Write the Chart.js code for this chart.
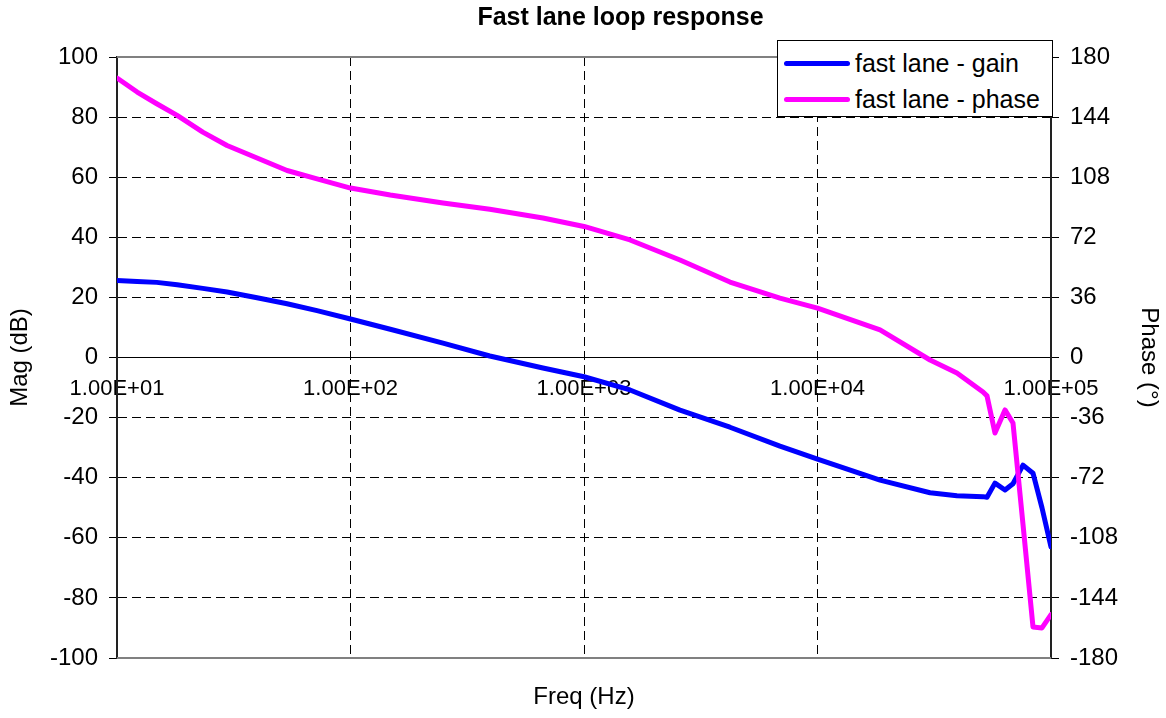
<!DOCTYPE html>
<html>
<head>
<meta charset="utf-8">
<script src="https://cdn.jsdelivr.net/npm/chart.js@4/dist/chart.umd.min.js"></script>
<style>
  html, body { margin: 0; padding: 0; background: #fff; }
  #wrap { position: relative; width: 1166px; height: 718px; }
  #legend {
    position: absolute; left: 777px; top: 40px; width: 274px; height: 75px;
    border: 1px solid #000; background: #fff; z-index: 2;
    font-family: "Liberation Sans", Arial, sans-serif; font-size: 25px; color: #000;
  }
  .row { position: absolute; left: 0; height: 30px; display: flex; align-items: center; white-space: nowrap; }
  .swatch { width: 66px; height: 5px; border-radius: 3px; margin-left: 6px; margin-right: 5px; }
</style>
</head>
<body>
<div id="wrap">
  <canvas id="c" width="1166" height="718"></canvas>
  <div id="legend"></div>
</div>
<script>
// ---- data ----
const freqHz = [10, 12.2, 14.8, 18.1, 23.3, 29.6, 39.8, 53.5, 71.9, 100, 148, 249, 395, 667, 1000,
  1574, 2577, 4218, 6905, 10000, 18530, 30340, 39550, 51150, 53200, 57550, 63530, 68740,
  75880, 83740, 91490, 100000];
const gainDb = [25.6, 25.3, 25.0, 24.2, 23.0, 21.8, 19.9, 17.9, 15.6, 12.8, 9.4, 4.8, 0.5, -3.5, -6.4,
  -10.8, -17.5, -23.2, -29.5, -33.8, -40.8, -45.0, -46.0, -46.3, -46.5, -41.8, -44.1, -42.0,
  -35.8, -38.5, -50.0, -63.0];
const phaseDeg = [167.4, 159, 152, 145, 135, 127, 119.5, 112, 107, 101.5, 97.3, 92.5, 88.8, 83.6, 78.5,
  70.4, 58.4, 45.2, 35.6, 29.6, 16.5, -1.5, -9.3, -20.7, -23, -45.2, -31.4, -39.2,
  -100, -161.4, -162, -154];
const seriesNames = ['fast lane - gain', 'fast lane - phase'];
const seriesColors = ['#0000FF', '#FF00FF'];
const xTickValues = [10, 100, 1000, 10000, 100000];
const xTickLabels = ['1.00E+01', '1.00E+02', '1.00E+03', '1.00E+04', '1.00E+05'];
const chartTitle = 'Fast lane loop response';
const xTitle = 'Freq (Hz)';
const yLeftTitle = 'Mag (dB)';
const yRightTitle = 'Phase (°)';

const FONT = '"Liberation Sans", Arial, sans-serif';

const frame = {
  id: 'frame',
  afterLayout(chart) {
    // title in the reference sits right of the canvas centre
    if (chart.titleBlock) { chart.titleBlock.left += 75; }
  },
  beforeDatasetsDraw(chart) {
    const {ctx, chartArea: a} = chart;
    ctx.save();
    ctx.strokeStyle = '#808080';
    ctx.lineWidth = 2;
    ctx.beginPath();
    ctx.moveTo(a.left, a.top); ctx.lineTo(a.right, a.top);
    ctx.moveTo(a.left, a.bottom); ctx.lineTo(a.right, a.bottom);
    ctx.stroke();
    ctx.restore();
  }
};

const chart = new Chart(document.getElementById('c'), {
  type: 'line',
  data: {
    datasets: [
      {
        label: seriesNames[0],
        data: freqHz.map((f, i) => ({x: f, y: gainDb[i]})),
        borderColor: seriesColors[0], backgroundColor: seriesColors[0],
        borderWidth: 5, pointRadius: 0, tension: 0, yAxisID: 'y', order: 1,
        borderCapStyle: 'round', borderJoinStyle: 'round'
      },
      {
        label: seriesNames[1],
        data: freqHz.map((f, i) => ({x: f, y: phaseDeg[i]})),
        borderColor: seriesColors[1], backgroundColor: seriesColors[1],
        borderWidth: 5, pointRadius: 0, tension: 0, yAxisID: 'y1', order: 0,
        borderCapStyle: 'round', borderJoinStyle: 'round'
      }
    ]
  },
  options: {
    responsive: false,
    animation: false,
    layout: { padding: 0 },
    plugins: {
      legend: { display: false },
      tooltip: { enabled: false },
      title: {
        display: true, text: chartTitle, color: '#000',
        font: { family: FONT, size: 25, weight: 'bold' },
        padding: { top: 3, bottom: 24 }
      },
      subtitle: {
        display: true, text: xTitle, position: 'bottom', fullSize: false, color: '#000',
        font: { family: FONT, size: 24, weight: 'normal' },
        padding: { top: 24.6, bottom: 6.6 }
      }
    },
    scales: {
      x: {
        type: 'logarithmic',
        min: 10, max: 100000,
        position: { y: 0 },
        afterBuildTicks: (axis) => { axis.ticks = xTickValues.map(v => ({ value: v, major: true })); },
        ticks: {
          autoSkip: false, maxRotation: 0, minRotation: 0, padding: 18, color: '#000',
          font: { family: FONT, size: 22 },
          callback: (value, index) => xTickLabels[index]
        },
        grid: {
          drawTicks: false,
          color: (c) => (c.index === 0 || c.index === xTickValues.length - 1) ? 'rgba(0,0,0,0)' : '#000',
          lineWidth: 1
        },
        border: { display: true, color: '#000', width: 1, dash: [9, 5] }
      },
      y: {
        position: 'left',
        min: -100, max: 100,
        ticks: { stepSize: 20, padding: 11, color: '#000', font: { family: FONT, size: 24 } },
        grid: {
          color: (c) => (c.tick && (c.tick.value === 100 || c.tick.value === -100)) ? 'rgba(0,0,0,0)' : '#000',
          tickColor: '#000', tickLength: 8, lineWidth: 1
        },
        border: { display: true, color: '#222', width: 2, dash: [9, 5] },
        title: {
          display: true, text: yLeftTitle, color: '#000',
          font: { family: FONT, size: 24 }, padding: { top: 6, bottom: 0 }
        },
        afterFit: (s) => { s.width = 117; }
      },
      y1: {
        position: 'right',
        min: -180, max: 180,
        ticks: { stepSize: 36, padding: 11, color: '#000', font: { family: FONT, size: 24 } },
        grid: { drawOnChartArea: false, tickColor: '#000', tickLength: 8 },
        border: { display: true, color: '#222', width: 2 },
        title: {
          display: true, text: yRightTitle, color: '#000',
          font: { family: FONT, size: 24 }, padding: { top: 3, bottom: 0 }
        },
        afterFit: (s) => { s.width = 115; }
      }
    }
  },
  plugins: [frame]
});

// HTML legend built from the datasets
const leg = document.getElementById('legend');
chart.data.datasets.forEach((ds, i) => {
  const row = document.createElement('div');
  row.className = 'row';
  row.style.top = (7 + i * 36) + 'px';
  const sw = document.createElement('span');
  sw.className = 'swatch';
  sw.style.background = ds.borderColor;
  const tx = document.createElement('span');
  tx.textContent = ds.label;
  row.appendChild(sw); row.appendChild(tx);
  leg.appendChild(row);
});
</script>
</body>
</html>
